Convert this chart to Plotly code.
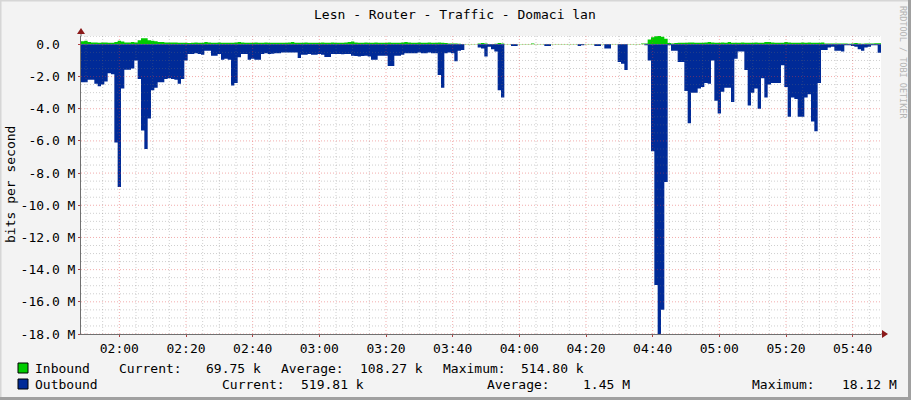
import pandas as pd
import plotly.graph_objects as go

# RRD style traffic graph, 1 minute samples starting 01:48:30
start_time = "2024-01-01 01:48:30"

# Outbound traffic in Mbit/s (drawn below zero)
outbound_mbit = [
    2.35, 2.35, 2.2, 2.2, 2.45, 2.6, 2.5, 2.3, 1.8, 1.85,
    6.1, 8.86, 2.75, 1.57, 1.57, 1.5, 1.0, 2.15, 5.35, 6.5,
    4.6, 2.85, 2.7, 2.35, 2.35, 2.15, 2.1, 2.15, 2.2, 2.45,
    2.15, 1.0, 0.6, 0.6, 0.55, 0.6, 0.65, 0.4, 0.4, 0.7,
    0.7, 0.6, 0.95, 0.9, 0.95, 2.55, 2.4, 0.8, 0.6, 0.6,
    0.95, 0.9, 0.95, 0.95, 0.6, 0.55, 0.6, 0.58, 0.55, 0.55,
    0.5, 0.5, 0.5, 0.5, 0.5, 0.85, 0.65, 0.65, 0.6, 0.65,
    0.65, 0.6, 0.65, 0.78, 0.78, 0.6, 0.6, 0.6, 0.62, 0.6,
    0.6, 0.7, 0.72, 0.75, 0.72, 0.7, 0.75, 0.95, 0.95, 0.7,
    0.7, 0.7, 1.35, 1.35, 0.7, 0.7, 0.65, 0.55, 0.55, 0.55,
    0.55, 0.5, 0.55, 0.55, 0.5, 0.55, 0.55, 1.9, 2.7, 0.55,
    0.5, 0.55, 1.05, 0.4, 0.35, 0.0, 0.0, 0.0, 0.0, 0.2,
    0.25, 0.75, 0.15, 0.3, 0.45, 2.85, 3.3, 0.0, 0.0, 0.1,
    0.1, 0.0, 0.0, 0.0, 0.0, 0.0, 0.0, 0.0, 0.0, 0.1,
    0.1, 0.0, 0.0, 0.0, 0.0, 0.0, 0.0, 0.0, 0.0, 0.1,
    0.05, 0.0, 0.0, 0.0, 0.1, 0.1, 0.0, 0.25, 0.25, 0.0,
    0.0, 1.1, 1.2, 1.6, 0.0, 0.0, 0.0, 0.0, 0.0, 0.05,
    1.0, 6.65, 14.96, 18.12, 16.5, 8.55, 0.05, 0.4, 0.4, 1.1,
    1.1, 2.9, 4.9, 3.0, 3.0, 2.75, 2.65, 2.4, 2.45, 1.0,
    3.5, 4.3, 2.95, 2.7, 2.7, 3.58, 0.9, 0.45, 0.45, 1.6,
    3.8, 3.0, 2.75, 4.0, 2.1, 3.3, 2.5, 2.4, 2.4, 2.4,
    1.3, 2.65, 4.5, 3.3, 3.4, 4.5, 4.5, 3.3, 3.1, 4.8,
    5.4, 2.4, 0.35, 0.35, 0.2, 0.15, 0.4, 0.4, 0.45, 0.05,
    0.05, 0.1, 0.15, 0.3, 0.4, 0.2, 0.15, 0.05, 0.05, 0.52,
]

# Inbound traffic in Mbit/s
inbound_mbit = [
    0.2, 0.22, 0.15, 0.12, 0.12, 0.1, 0.12, 0.12, 0.1, 0.1,
    0.15, 0.22, 0.18, 0.12, 0.12, 0.15, 0.12, 0.25, 0.38, 0.38,
    0.25, 0.22, 0.2, 0.15, 0.15, 0.12, 0.12, 0.12, 0.12, 0.1,
    0.1, 0.1, 0.08, 0.1, 0.12, 0.1, 0.1, 0.15, 0.12, 0.1,
    0.1, 0.12, 0.1, 0.1, 0.1, 0.1, 0.12, 0.15, 0.12, 0.1,
    0.1, 0.1, 0.12, 0.1, 0.1, 0.12, 0.1, 0.1, 0.1, 0.1,
    0.1, 0.1, 0.12, 0.15, 0.1, 0.1, 0.1, 0.12, 0.1, 0.1,
    0.1, 0.1, 0.12, 0.1, 0.1, 0.12, 0.1, 0.1, 0.1, 0.12,
    0.15, 0.18, 0.12, 0.1, 0.1, 0.12, 0.1, 0.1, 0.12, 0.1,
    0.1, 0.1, 0.12, 0.1, 0.1, 0.1, 0.12, 0.15, 0.12, 0.1,
    0.1, 0.12, 0.1, 0.1, 0.12, 0.1, 0.1, 0.12, 0.1, 0.08,
    0.06, 0.05, 0.05, 0.04, 0.03, 0.03, 0.03, 0.03, 0.03, 0.05,
    0.08, 0.05, 0.03, 0.03, 0.04, 0.08, 0.06, 0.03, 0.03, 0.03,
    0.03, 0.03, 0.03, 0.03, 0.03, 0.05, 0.03, 0.03, 0.03, 0.03,
    0.03, 0.03, 0.03, 0.03, 0.03, 0.03, 0.03, 0.03, 0.03, 0.03,
    0.03, 0.03, 0.03, 0.03, 0.03, 0.03, 0.03, 0.03, 0.03, 0.03,
    0.03, 0.03, 0.03, 0.03, 0.03, 0.03, 0.03, 0.03, 0.05, 0.05,
    0.3, 0.45, 0.5, 0.515, 0.48, 0.35, 0.08, 0.06, 0.08, 0.1,
    0.1, 0.1, 0.12, 0.12, 0.1, 0.1, 0.1, 0.12, 0.15, 0.12,
    0.1, 0.1, 0.12, 0.1, 0.15, 0.1, 0.1, 0.1, 0.12, 0.1,
    0.1, 0.1, 0.12, 0.1, 0.1, 0.15, 0.15, 0.12, 0.1, 0.1,
    0.1, 0.15, 0.12, 0.1, 0.1, 0.1, 0.12, 0.1, 0.12, 0.1,
    0.1, 0.1, 0.12, 0.06, 0.05, 0.05, 0.05, 0.05, 0.05, 0.05,
    0.04, 0.06, 0.08, 0.05, 0.04, 0.05, 0.06, 0.05, 0.07, 0.07,
]

ytick_values = [0, -2, -4, -6, -8, -10, -12, -14, -16, -18]
ytick_labels = ["0.0\u00a0\u00a0", "-2.0 M", "-4.0 M", "-6.0 M", "-8.0 M",
                "-10.0 M", "-12.0 M", "-14.0 M", "-16.0 M", "-18.0 M"]

inbound_stats = ["69.75 k", "108.27 k", "514.80 k"]
outbound_stats = ["519.81 k", "1.45 M", "18.12 M"]

GREEN = "#00CC00"
BLUE = "#002A97"
FONT = "DejaVu Sans Mono"
FS = 13

# figure geometry in pixels
W, H = 911, 400
ML, MR, MT, MB = 81, 30, 36, 66
PW, PH = W - ML - MR, H - MT - MB


def px(x):
    return (x - ML) / PW


def py(y):
    return (H - MB - y) / PH


times = pd.date_range(start_time, periods=len(outbound_mbit) + 1, freq="1min")
t0, t1 = times[0], times[-1]

fig = go.Figure()

fig.add_trace(go.Scatter(
    x=times, y=inbound_mbit + [inbound_mbit[-1]],
    mode="lines", line=dict(shape="hv", width=0, color=GREEN),
    fill="tozeroy", fillcolor=GREEN, hoverinfo="skip"))

fig.add_trace(go.Scatter(
    x=times, y=[-v for v in outbound_mbit] + [-outbound_mbit[-1]],
    mode="lines", line=dict(shape="hv", width=0, color=BLUE),
    fill="tozeroy", fillcolor=BLUE, hoverinfo="skip"))

shapes = []

# grid on top of the areas, like rrdtool does (translucent, so faint on the blue)
minor_col = "rgba(110,110,110,0.33)"
major_col = "rgba(225,60,60,0.42)"
gt = pd.Timestamp("2024-01-01 01:50")
while gt < t1:
    major = gt.minute % 20 == 0
    shapes.append(dict(type="line", xref="x", yref="paper", x0=gt, x1=gt, y0=0, y1=1,
                       layer="above",
                       line=dict(color=major_col if major else minor_col, width=1, dash="1px,2px")))
    gt += pd.Timedelta(minutes=5)

v = -18.0
while v <= 0.5:
    major = abs(v % 2) < 1e-9
    shapes.append(dict(type="line", xref="paper", yref="y", x0=0, x1=1, y0=v, y1=v,
                       layer="above",
                       line=dict(color=major_col if major else minor_col, width=1, dash="1px,2px")))
    v += 0.5

# axis extensions and arrows
shapes.append(dict(type="line", xref="paper", yref="paper", x0=0, x1=0, y0=1, y1=py(31),
                   line=dict(color="#707070", width=1)))
shapes.append(dict(type="line", xref="paper", yref="paper", x0=1, x1=px(884), y0=0, y1=0,
                   line=dict(color="#707070", width=1)))
shapes.append(dict(type="path", xref="paper", yref="paper",
                   path=f"M {px(81)} {py(28)} L {px(77)} {py(34)} L {px(85)} {py(34)} Z",
                   fillcolor="#8B1A1A", line=dict(width=0)))
shapes.append(dict(type="path", xref="paper", yref="paper",
                   path=f"M {px(888)} {py(334)} L {px(882)} {py(330)} L {px(882)} {py(338)} Z",
                   fillcolor="#8B1A1A", line=dict(width=0)))

# legend colour boxes
shapes.append(dict(type="rect", xref="paper", yref="paper", x0=px(18), x1=px(28), y0=py(373), y1=py(363),
                   fillcolor=GREEN, line=dict(color="#000000", width=1)))
shapes.append(dict(type="rect", xref="paper", yref="paper", x0=px(18), x1=px(28), y0=py(389), y1=py(379),
                   fillcolor=BLUE, line=dict(color="#000000", width=1)))

# 3d frame of the image
shapes.append(dict(type="line", xref="paper", yref="paper", x0=px(0), x1=px(W), y0=py(0.5), y1=py(0.5),
                   line=dict(color="#D6D6D6", width=2)))
shapes.append(dict(type="line", xref="paper", yref="paper", x0=px(0.5), x1=px(0.5), y0=py(0), y1=py(H),
                   line=dict(color="#D6D6D6", width=2)))
shapes.append(dict(type="line", xref="paper", yref="paper", x0=px(W - 1.5), x1=px(W - 1.5), y0=py(0), y1=py(H),
                   line=dict(color="#A0A0A0", width=3)))
shapes.append(dict(type="line", xref="paper", yref="paper", x0=px(0), x1=px(W), y0=py(H - 1.5), y1=py(H - 1.5),
                   line=dict(color="#A0A0A0", width=3)))

annotations = []


def label(x, y, text, size=FS, color="#000000", anchor="left", angle=0):
    annotations.append(dict(xref="paper", yref="paper", x=px(x), y=py(y), text=text,
                            showarrow=False, xanchor=anchor, yanchor="middle", textangle=angle,
                            font=dict(family=FONT, size=size, color=color)))


label(455, 14, "Lesn - Router - Traffic - Domaci lan", anchor="center")
label(10, 185, "bits per second", anchor="center", angle=-90)
label(903, 62, "RRDTOOL / TOBI OETIKER", size=8.5, color="#B4B4B4", anchor="center", angle=90)

label(33, 368, "Inbound")
label(117, 368, "Current:")
label(204, 368, inbound_stats[0])
label(279, 368, "Average:")
label(358, 368, inbound_stats[1])
label(441, 368, "Maximum:")
label(519, 368, inbound_stats[2])

label(33, 384, "Outbound")
label(220, 384, "Current:")
label(299, 384, outbound_stats[0])
label(485, 384, "Average:")
label(581, 384, outbound_stats[1])
label(750, 384, "Maximum:")
label(840, 384, outbound_stats[2])

fig.update_layout(
    width=W, height=H,
    margin=dict(l=ML, r=MR, t=MT, b=MB),
    paper_bgcolor="#F3F3F3",
    plot_bgcolor="#FFFFFF",
    showlegend=False,
    font=dict(family=FONT, size=FS, color="#000000"),
    shapes=shapes,
    annotations=annotations,
)

fig.update_xaxes(
    type="date", range=[t0, t1],
    tickformat="%H:%M", dtick=20 * 60 * 1000, tick0="2024-01-01 02:00",
    showgrid=False, zeroline=False,
    showline=True, linecolor="#707070", linewidth=1,
    ticks="outside", ticklen=2, tickcolor="#B04040",
    tickfont=dict(family=FONT, size=FS),
)

fig.update_yaxes(
    range=[-18, 0.52],
    tickvals=ytick_values, ticktext=ytick_labels,
    showgrid=False, zeroline=False,
    showline=True, linecolor="#707070", linewidth=1,
    ticks="outside", ticklen=2, tickcolor="#B04040",
    tickfont=dict(family=FONT, size=FS),
)

fig.write_html("out.html", config={"displayModeBar": False},
               post_script="document.body.style.margin='0';")
